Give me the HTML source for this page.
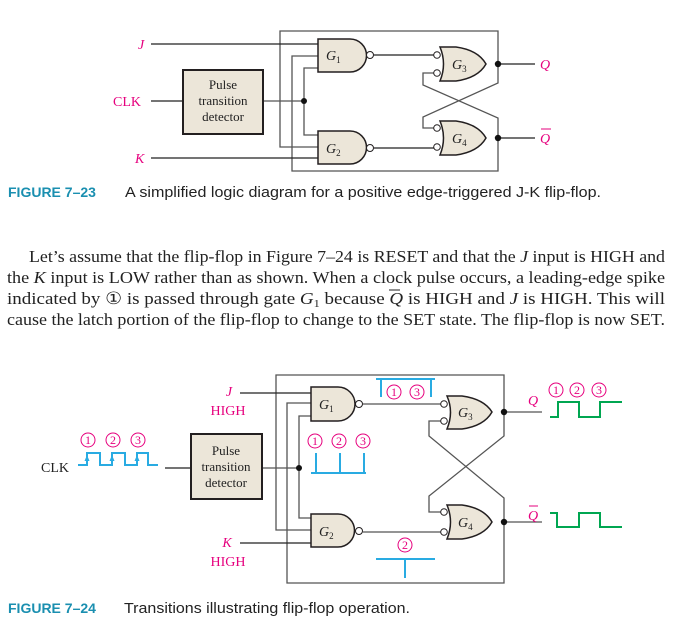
<!DOCTYPE html>
<html><head><meta charset="utf-8"><style>
html,body{margin:0;padding:0;background:#fff;}
svg{display:block;}
.s{font-family:"Liberation Serif",serif;}
.ss{font-family:"Liberation Sans",sans-serif;}
</style></head><body>
<svg width="675" height="625" viewBox="0 0 675 625" xmlns="http://www.w3.org/2000/svg">
<!-- ========== FIGURE 7-23 ========== -->
<g fill="none" stroke="#555" stroke-width="1.3">
<polyline points="498,64 498,31 280,31 280,147 318,147"/>
<polyline points="498,138 498,171 292,171 292,56 318,56"/>
<polyline points="263,101 304,101"/>
<polyline points="318,68 304,68 304,135 318,135"/>
<polyline points="498,64 498,83 423,117 423,128 434,128"/>
<polyline points="434,73 423,73 423,85 498,118 498,138"/>
</g>
<g stroke="#222" stroke-width="1.2" fill="none">
<line x1="151" y1="44" x2="318" y2="44"/>
<line x1="151" y1="158" x2="318" y2="158"/>
<line x1="151" y1="101" x2="183" y2="101"/>
<line x1="374" y1="55" x2="434" y2="55"/>
<line x1="374" y1="148" x2="434" y2="148"/>
<line x1="498" y1="64" x2="535" y2="64"/>
<line x1="498" y1="138" x2="535" y2="138"/>
</g>
<g fill="#ece6d9" stroke="#231f20" stroke-width="1.5">
<rect x="183" y="70" width="80" height="64" stroke-width="2"/>
<path d="M318,39 H350 A16.5,16.5 0 0 1 350,72 H318 Z"/>
<path d="M318,131 H350 A16.5,16.5 0 0 1 350,164 H318 Z"/>
<path d="M440,47 H456 Q478,50 486,64 Q478,78 456,81 H440 Q447,64 440,47 Z"/>
<path d="M440,121 H456 Q478,124 486,138 Q478,152 456,155 H440 Q447,138 440,121 Z"/>
</g>
<g fill="#fff" stroke="#231f20" stroke-width="1">
<circle cx="370" cy="55" r="3.5"/><circle cx="370" cy="148" r="3.5"/>
<circle cx="437" cy="55" r="3.3"/><circle cx="437" cy="73" r="3.3"/>
<circle cx="437" cy="128" r="3.3"/><circle cx="437" cy="147" r="3.3"/>
</g>
<g fill="#111"><circle cx="304" cy="101" r="3"/><circle cx="498" cy="64" r="3.2"/><circle cx="498" cy="138" r="3.2"/></g>
<g class="s" font-size="13" fill="#222" text-anchor="middle">
<text x="223" y="89">Pulse</text><text x="223" y="105">transition</text><text x="223" y="121">detector</text>
</g>
<g class="s" font-size="14" font-style="italic" fill="#222">
<text x="326" y="60">G<tspan font-size="9" font-style="normal" dy="3">1</tspan></text>
<text x="326" y="153">G<tspan font-size="9" font-style="normal" dy="3">2</tspan></text>
<text x="452" y="69">G<tspan font-size="9" font-style="normal" dy="3">3</tspan></text>
<text x="452" y="143">G<tspan font-size="9" font-style="normal" dy="3">4</tspan></text>
</g>
<g class="s" font-size="14" fill="#e6007e">
<text x="138" y="49" font-style="italic">J</text>
<text x="113" y="106">CLK</text>
<text x="135" y="163" font-style="italic">K</text>
<text x="540" y="69" font-style="italic">Q</text>
<text x="540" y="143" font-style="italic">Q</text>
<line x1="541" y1="129" x2="551" y2="129" stroke="#e6007e" stroke-width="1"/>
</g>
<text x="8" y="197" class="ss" font-size="14" font-weight="bold" fill="#1a8fb0">FIGURE 7–23</text>
<text x="125" y="197" class="ss" font-size="14.5" fill="#222" textLength="476" lengthAdjust="spacingAndGlyphs">A simplified logic diagram for a positive edge-triggered J-K flip-flop.</text>
<!-- paragraph -->
<g class="s" font-size="17" fill="#222">
<text x="29" y="262" textLength="636" lengthAdjust="spacingAndGlyphs">Let’s assume that the flip-flop in Figure 7–24 is RESET and that the <tspan font-style="italic">J</tspan> input is HIGH and</text>
<text x="7" y="283" textLength="658" lengthAdjust="spacingAndGlyphs">the <tspan font-style="italic">K</tspan> input is LOW rather than as shown. When a clock pulse occurs, a leading-edge spike</text>
<text x="7" y="304" textLength="658" lengthAdjust="spacingAndGlyphs">indicated by ① is passed through gate <tspan font-style="italic">G</tspan><tspan font-size="11" dy="3">1</tspan><tspan dy="-3"> because </tspan><tspan font-style="italic">Q</tspan> is HIGH and <tspan font-style="italic">J</tspan> is HIGH. This will</text>
<text x="7" y="325" textLength="658" lengthAdjust="spacingAndGlyphs">cause the latch portion of the flip-flop to change to the SET state. The flip-flop is now SET.</text>
</g>
<line x1="389" y1="290" x2="400" y2="290" stroke="#222" stroke-width="1"/>
<!-- ========== FIGURE 7-24 ========== -->
<g fill="none" stroke="#555" stroke-width="1.3">
<polyline points="504,412 504,375 276,375 276,530 311,530"/>
<polyline points="504,522 504,583 287,583 287,403 311,403"/>
<polyline points="262,468 299,468"/>
<polyline points="311,416 299,416 299,518 311,518"/>
<polyline points="504,412 504,436 429,496 429,512 441,512"/>
<polyline points="441,421 429,421 429,436 504,498 504,522"/>
<line x1="363" y1="404" x2="441" y2="404"/>
<line x1="363" y1="532" x2="441" y2="532"/>
<line x1="504" y1="412" x2="542" y2="412"/>
<line x1="504" y1="522" x2="542" y2="522"/>
</g>
<g stroke="#222" stroke-width="1.2" fill="none">
<line x1="240" y1="393" x2="311" y2="393"/>
<line x1="240" y1="543" x2="311" y2="543"/>
<line x1="165" y1="468" x2="191" y2="468"/>
</g>
<g fill="#ece6d9" stroke="#231f20" stroke-width="1.5">
<rect x="191" y="434" width="71" height="65" stroke-width="2"/>
<path d="M311,387 H338 A17,17 0 0 1 338,421 H311 Z"/>
<path d="M311,514 H338 A16.5,16.5 0 0 1 338,547 H311 Z"/>
<path d="M447,396 H462 Q484,399 492,412 Q484,426 462,429 H447 Q454,412 447,396 Z"/>
<path d="M447,505 H462 Q484,508 492,522 Q484,536 462,539 H447 Q454,522 447,505 Z"/>
</g>
<g fill="#fff" stroke="#231f20" stroke-width="1">
<circle cx="359" cy="404" r="3.5"/><circle cx="359" cy="531" r="3.5"/>
<circle cx="444" cy="404" r="3.3"/><circle cx="444" cy="421" r="3.3"/>
<circle cx="444" cy="512" r="3.3"/><circle cx="444" cy="532" r="3.3"/>
</g>
<g fill="#111"><circle cx="299" cy="468" r="3"/><circle cx="504" cy="412" r="3.2"/><circle cx="504" cy="522" r="3.2"/></g>
<g class="s" font-size="13" fill="#222" text-anchor="middle">
<text x="226" y="455">Pulse</text><text x="226" y="471">transition</text><text x="226" y="487">detector</text>
</g>
<g class="s" font-size="14" font-style="italic" fill="#222">
<text x="319" y="409">G<tspan font-size="9" font-style="normal" dy="3">1</tspan></text>
<text x="319" y="536">G<tspan font-size="9" font-style="normal" dy="3">2</tspan></text>
<text x="458" y="417">G<tspan font-size="9" font-style="normal" dy="3">3</tspan></text>
<text x="458" y="527">G<tspan font-size="9" font-style="normal" dy="3">4</tspan></text>
</g>
<g class="s" font-size="14" fill="#e6007e" text-anchor="middle">
<text x="229" y="396" font-style="italic">J</text>
<text x="228" y="415">HIGH</text>
<text x="227" y="547" font-style="italic">K</text>
<text x="228" y="566">HIGH</text>
<text x="533" y="405" font-style="italic">Q</text>
<text x="533" y="520" font-style="italic">Q</text>
<line x1="529" y1="506" x2="538" y2="506" stroke="#e6007e" stroke-width="1"/>
</g>
<text x="41" y="472" class="s" font-size="14" fill="#222">CLK</text>
<!-- clock waveform -->
<g fill="none" stroke="#29abe2" stroke-width="2">
<polyline points="78,465 87,465 87,453 100,453 100,465 112,465 112,453 125,453 125,465 137,465 137,453 148,453 148,465 158,465"/>
<!-- middle spikes -->
<polyline points="311,473 366,473"/>
<line x1="316" y1="473" x2="316" y2="453"/><line x1="340" y1="473" x2="340" y2="453"/><line x1="364" y1="473" x2="364" y2="453"/>
<!-- top 1 3 -->
<polyline points="376,379 435,379"/>
<line x1="381" y1="379" x2="381" y2="397"/><line x1="431" y1="379" x2="431" y2="397"/>
<!-- bottom 2 -->
<polyline points="376,559 435,559"/>
<line x1="405" y1="559" x2="405" y2="578"/>
</g>
<g fill="#29abe2">
<path d="M87,455 L84.5,461 L89.5,461Z"/>
<path d="M112,455 L109.5,461 L114.5,461Z"/>
<path d="M137,455 L134.5,461 L139.5,461Z"/>
</g>
<g fill="none" stroke="#00a651" stroke-width="2">
<polyline points="550,417 558,417 558,402 579,402 579,417 600,417 600,402 622,402"/>
<polyline points="550,513 557,513 557,527 579,527 579,513 600,513 600,527 622,527"/>
</g>
<!-- circled numbers -->
<g fill="none" stroke="#e6007e" stroke-width="1">
<circle cx="88" cy="440" r="7"/><circle cx="113" cy="440" r="7"/><circle cx="138" cy="440" r="7"/>
<circle cx="315" cy="441" r="7"/><circle cx="339" cy="441" r="7"/><circle cx="363" cy="441" r="7"/>
<circle cx="394" cy="392" r="7"/><circle cx="417" cy="392" r="7"/>
<circle cx="556" cy="390" r="7"/><circle cx="577" cy="390" r="7"/><circle cx="599" cy="390" r="7"/>
<circle cx="405" cy="545" r="7"/>
</g>
<g class="s" font-size="12" fill="#e6007e" text-anchor="middle">
<text x="88" y="444">1</text><text x="113" y="444">2</text><text x="138" y="444">3</text>
<text x="315" y="445">1</text><text x="339" y="445">2</text><text x="363" y="445">3</text>
<text x="394" y="396">1</text><text x="417" y="396">3</text>
<text x="556" y="394">1</text><text x="577" y="394">2</text><text x="599" y="394">3</text>
<text x="405" y="549">2</text>
</g>
<text x="8" y="613" class="ss" font-size="14" font-weight="bold" fill="#1a8fb0">FIGURE 7–24</text>
<text x="124" y="613" class="ss" font-size="14.5" fill="#222" textLength="286" lengthAdjust="spacingAndGlyphs">Transitions illustrating flip-flop operation.</text>
</svg>
</body></html>
